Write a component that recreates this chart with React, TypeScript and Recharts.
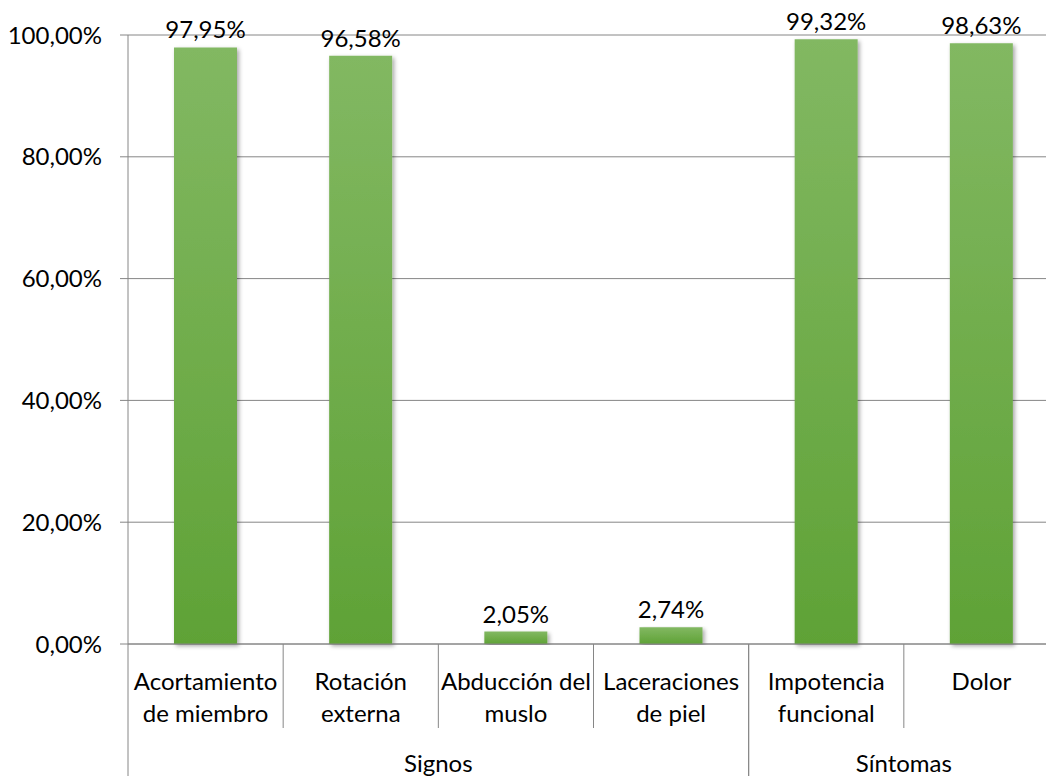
import React from "react";
import {
  Bar,
  BarChart,
  CartesianGrid,
  LabelList,
  XAxis,
  YAxis,
} from "recharts";

const categories = [
  "Acortamiento de miembro",
  "Rotación externa",
  "Abducción del muslo",
  "Laceraciones de piel",
  "Impotencia funcional",
  "Dolor",
];
const categoryLines = [
  ["Acortamiento", "de miembro"],
  ["Rotación", "externa"],
  ["Abducción del", "muslo"],
  ["Laceraciones", "de piel"],
  ["Impotencia", "funcional"],
  ["Dolor"],
];
const groups = ["Signos", "Signos", "Signos", "Signos", "Síntomas", "Síntomas"];
const values = [97.95, 96.58, 2.05, 2.74, 99.32, 98.63];
const yTicks = [0, 20, 40, 60, 80, 100];

const data = categories.map((name, i) => ({
  name,
  group: groups[i],
  value: values[i],
}));

const CHART_W = 1070;
const CHART_H = 776;
const MARGIN = { top: 35, right: 11, left: 0, bottom: 0 };
const Y_W = 128;
const STEP = (CHART_W - MARGIN.right - MARGIN.left - Y_W) / categories.length;
const FONT = "Lato, sans-serif";
const FS = 24;
const GRID = "#868686";

const pct = (v: number) => v.toFixed(2).replace(".", ",") + "%";

// two-line category labels + separators between categories of the same group
const CategoryTick = (props: any) => {
  const { x, y, index } = props;
  const lines = categoryLines[index] || [];
  const left = x - STEP / 2;
  const showLeft = index > 0 && groups[index] === groups[index - 1];
  return (
    <g>
      {showLeft && (
        <line x1={left} x2={left} y1={y} y2={y + 84} stroke={GRID} />
      )}
      {lines.map((t: string, i: number) => (
        <text
          key={i}
          x={x}
          y={y + 36 + i * 32}
          textAnchor="middle"
          dominantBaseline="central"
          fontFamily={FONT}
          fontSize={FS}
          fill="#000"
        >
          {t}
        </text>
      ))}
    </g>
  );
};

// group label drawn once per group, centred on its span
const GroupTick = (props: any) => {
  const { x, y, index } = props;
  const g = groups[index];
  if (index > 0 && groups[index - 1] === g) return <g />;
  let n = 0;
  while (index + n < groups.length && groups[index + n] === g) n++;
  const left = x - STEP / 2;
  const cx = left + (n * STEP) / 2;
  return (
    <g>
      <line x1={left} x2={left} y1={y - 84} y2={y + 60} stroke={GRID} />
      <line
        x1={left + n * STEP}
        x2={left + n * STEP}
        y1={y - 84}
        y2={y + 60}
        stroke={GRID}
      />
      <text
        x={cx}
        y={y + 34}
        textAnchor="middle"
        dominantBaseline="central"
        fontFamily={FONT}
        fontSize={FS}
        fill="#000"
      >
        {g}
      </text>
    </g>
  );
};

export default function App() {
  return (
    <div
      style={{
        position: "absolute",
        left: 0,
        top: 0,
        width: 1046,
        height: 776,
        overflow: "hidden",
        background: "#fff",
      }}
    >
      <BarChart width={CHART_W} height={CHART_H} data={data} margin={MARGIN}>
        <defs>
          <linearGradient id="barFill" x1="0" y1="0" x2="0" y2="1">
            <stop offset="0%" stopColor="#82b862" />
            <stop offset="100%" stopColor="#5fa236" />
          </linearGradient>
          <filter id="barShadow" x="-20%" y="-5%" width="140%" height="110%">
            <feDropShadow dx="2" dy="2" stdDeviation="2" floodColor="#000" floodOpacity="0.35" />
          </filter>
        </defs>
        <CartesianGrid vertical={false} stroke={GRID} />
        <XAxis
          dataKey="name"
          height={84}
          interval={0}
          tickLine={false}
          tickSize={0}
          tickMargin={0}
          axisLine={{ stroke: GRID }}
          tick={<CategoryTick />}
        />
        <XAxis
          xAxisId="group"
          dataKey="group"
          height={48}
          interval={0}
          tickLine={false}
          tickSize={0}
          tickMargin={0}
          axisLine={false}
          allowDuplicatedCategory
          tick={<GroupTick />}
        />
        <YAxis
          width={Y_W}
          domain={[0, 100]}
          ticks={yTicks}
          tickSize={8}
          tickMargin={18}
          axisLine={{ stroke: GRID }}
          tickLine={{ stroke: GRID }}
          tickFormatter={pct}
          tick={{ fontFamily: FONT, fontSize: FS, fill: "#000" }}
        />
        <Bar
          dataKey="value"
          barSize={63}
          fill="url(#barFill)"
          filter="url(#barShadow)"
          isAnimationActive={false}
        >
          <LabelList
            dataKey="value"
            position="top"
            offset={9}
            formatter={(v: any) => pct(Number(v))}
            style={{ fontFamily: FONT, fontSize: FS, fill: "#000" }}
          />
        </Bar>
      </BarChart>
    </div>
  );
}
